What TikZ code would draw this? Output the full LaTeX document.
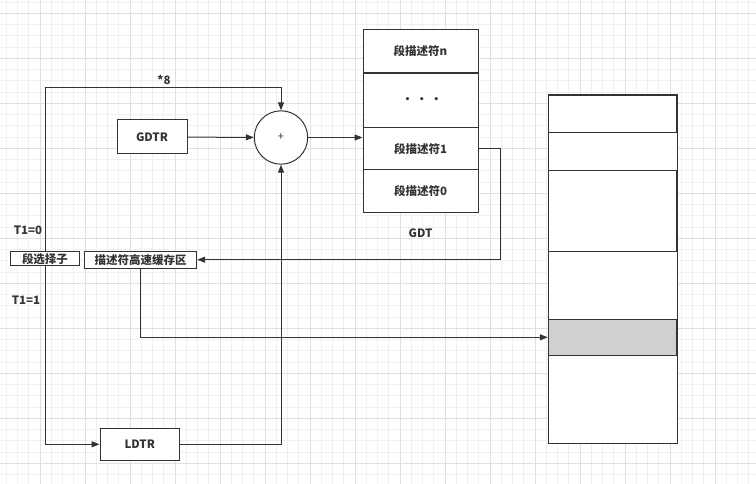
\documentclass[tikz,border=0pt]{standalone}
\usepackage{fontspec}
\setmainfont{Noto Sans CJK SC}
\usetikzlibrary{arrows.meta}

\definecolor{ink}{HTML}{333333}
\definecolor{gridmajor}{HTML}{E0E0E0}
\definecolor{gridminor}{HTML}{F0F0F0}
\definecolor{cellgray}{HTML}{D0D0D0}

\tikzset{
  box/.style={draw=ink, line width=1pt, fill=white, inner sep=0pt, text=ink,
    font=\bfseries\fontsize{11.5}{13}\selectfont},
  lbl/.style={inner sep=0pt, text=ink, font=\bfseries\fontsize{11.5}{13}\selectfont},
  arr/.style={draw=ink, line width=1pt, -{Triangle[length=8pt,width=6pt]}},
  wire/.style={draw=ink, line width=1pt}
}

\begin{document}
\begin{tikzpicture}[x=1pt,y=-1pt]
\useasboundingbox (0,0) rectangle (756,484);
\fill [white] (0,0) rectangle (756,484);

% grid
\foreach \i in {0,...,68} \draw [gridminor,line width=0.8pt] ({-5+11.25*\i},0) -- ++(0,484);
\foreach \i in {0,...,43} \draw [gridminor,line width=0.8pt] (0,{2.05+11.25*\i}) -- ++(756,0);
\foreach \i in {0,...,17} \draw [gridmajor,line width=0.8pt] ({-5+45*\i},0) -- ++(0,484);
\foreach \i in {0,...,10} \draw [gridmajor,line width=0.8pt] (0,{13.3+45*\i}) -- ++(756,0);

% registers and adder
\node [box, minimum width=70, minimum height=34] (gdtr) at (152,137) {GDTR};
\node [box, minimum width=79.5, minimum height=32] (ldtr) at (139.75,444.3) {LDTR};
\node [box, circle, minimum size=53.4, font=\fontsize{11}{12}\selectfont] (adder) at (281,137.5) {+};

% selector and cache
\node [box, minimum width=69, minimum height=14] (sel) at (45,259) {段选择子};
\node [box, minimum width=112, minimum height=17] (cache) at (140.7,259.7) {描述符高速缓存区};

% GDT
\node [box, minimum width=115, minimum height=43] (descn) at (420.5,51.5) {段描述符n};
\node [box, minimum width=115, minimum height=54] (descdots) at (420.5,100.2) {\hspace{3pt}·\hspace{3pt}·\hspace{3pt}·};
\node [box, minimum width=115, minimum height=43] (desc1) at (420.5,148.6) {段描述符1};
\node [box, minimum width=115, minimum height=43] (desc0) at (420.5,191.4) {段描述符0};
\node [lbl] (gdtlbl) at (420.5,233) {GDT};

% memory
\node [box, minimum width=129, minimum height=349] (mem) at (612.8,268.8) {};
\node [box, minimum width=128.4, minimum height=36.3] (memtop) at (612.5,114.15) {};
\node [box, minimum width=128.4, minimum height=81] (memmid) at (612.5,210.8) {};
\node [box, fill=cellgray, minimum width=128.4, minimum height=36] (memsel) at (612.5,337.3) {};

% labels
\node [lbl] (times) at (164,80) {*8};
\node [lbl] (tzero) at (28,230) {T1=0};
\node [lbl] (tone) at (26,300) {T1=1};

% connectors
\coordinate (top) at (45,88);
\coordinate (turn) at (500.5,259.7);
\draw [arr] (sel.north) -- (sel.north |- top) -| (adder.north);
\draw [arr] (sel.south) |- (ldtr.west);
\draw [arr] (gdtr) -- (adder);
\draw [arr] (adder.east) -- (adder.east -| desc1.west);
\draw [arr] (ldtr.east) -| (adder.south);
\draw [arr] (desc1.east) -| (turn) -- (cache.east);
\draw [arr] (cache.south) |- (memsel.west);
\end{tikzpicture}
\end{document}
